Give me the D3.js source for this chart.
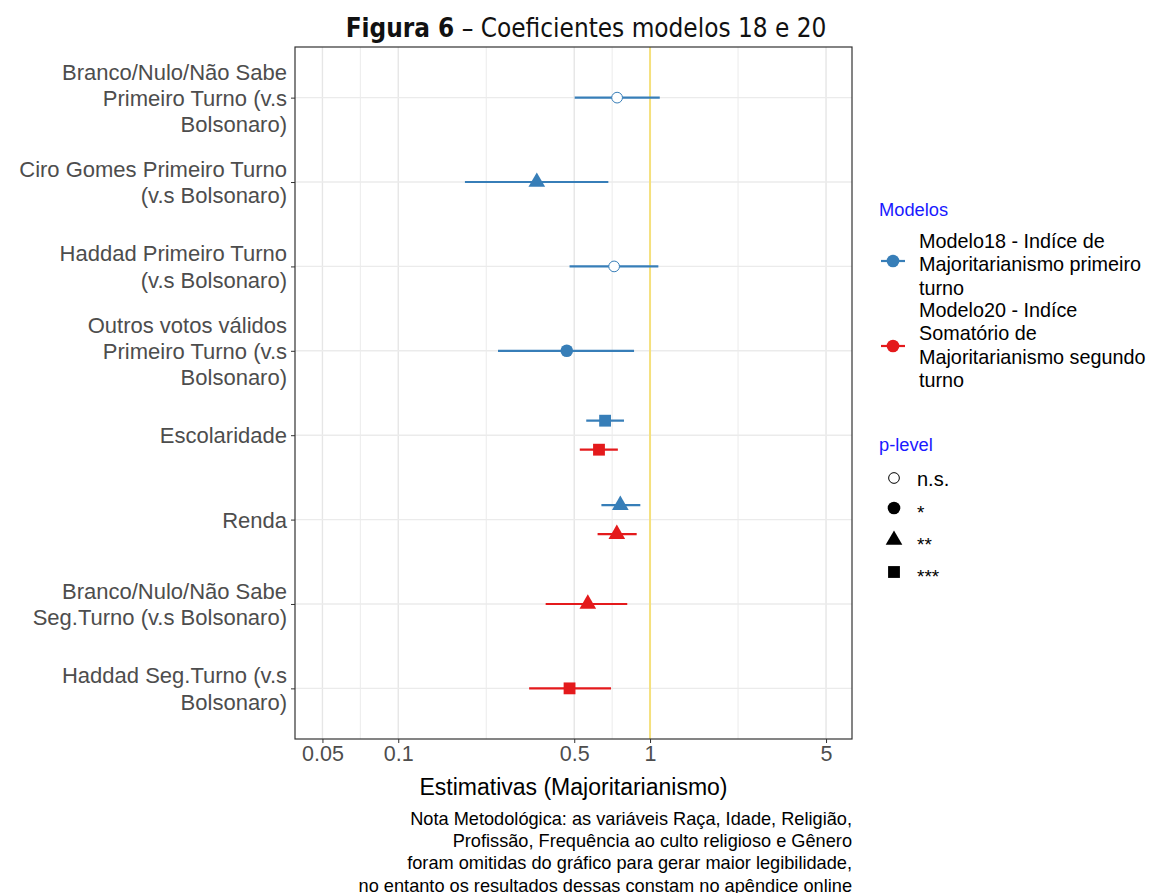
<!DOCTYPE html>
<html>
<head>
<meta charset="utf-8">
<script src="https://cdn.jsdelivr.net/npm/d3@7"></script>
<style>
  body { margin: 0; background: #ffffff; }
  text { font-family: "Liberation Sans", Arial, sans-serif; }
</style>
</head>
<body>
<svg id="svg1"></svg>
<script>
const categories = ["Branco/Nulo/Não Sabe\nPrimeiro Turno (v.s\nBolsonaro)",
                    "Ciro Gomes Primeiro Turno\n(v.s Bolsonaro)",
                    "Haddad Primeiro Turno\n(v.s Bolsonaro)",
                    "Outros votos válidos\nPrimeiro Turno (v.s\nBolsonaro)",
                    "Escolaridade",
                    "Renda",
                    "Branco/Nulo/Não Sabe\nSeg.Turno (v.s Bolsonaro)",
                    "Haddad Seg.Turno (v.s\nBolsonaro)"];

const models = ["Modelo18 - Indíce de\nMajoritarianismo primeiro\nturno",
                "Modelo20 - Indíce\nSomatório de\nMajoritarianismo segundo\nturno"];
const modelColors = ["#377eb8", "#e41a1c"];

const pLevels = ["n.s.", "*", "**", "***"];

// one entry per estimate
const termIndex  = [0, 1, 2, 3, 4, 4, 5, 5, 6, 7];
const modelIndex = [0, 0, 0, 0, 0, 1, 0, 1, 1, 1];
const estimates  = [0.740, 0.355, 0.720, 0.467, 0.663, 0.627, 0.762, 0.738, 0.566, 0.479];
const lower      = [0.502, 0.184, 0.479, 0.249, 0.558, 0.526, 0.641, 0.619, 0.385, 0.331];
const upper      = [1.093, 0.683, 1.079, 0.864, 0.788, 0.745, 0.915, 0.885, 0.812, 0.700];
const pIndex     = [0, 2, 0, 1, 3, 3, 2, 2, 2, 3];

const xTicks = [0.05, 0.1, 0.5, 1, 5];
const xMinor = [0.0707, 0.2236, 0.7071, 2.236];

const width = 1153;
const height = 893;

const svg = d3.select("#svg1")
              .attr("width", width)
              .attr("height", height);

const panel = {left: 295, right: 852, top: 47, bottom: 739};

const x = d3.scaleLog()
            .domain([0.0389, 6.34])
            .range([panel.left, panel.right]);

const y = d3.scalePoint()
            .domain(categories)
            .range([panel.top, panel.bottom])
            .padding(0.6);

const dodge = d3.scalePoint()
                .domain([0, 1])
                .range([-14.5, 14.5]);

const data = estimates.map((d, i) => ({
  term: categories[termIndex[i]],
  model: modelIndex[i],
  est: d,
  lo: lower[i],
  hi: upper[i],
  p: pIndex[i]
}));

const countByTerm = d3.rollup(data, v => v.length, d => d.term);

const yPos = d => y(d.term) + (countByTerm.get(d.term) > 1 ? dodge(d.model) : 0);

// grid
const grid = svg.append("g");
grid.selectAll(".minor")
    .data(xMinor)
    .enter()
    .append("line")
    .attr("x1", d => x(d)).attr("x2", d => x(d))
    .attr("y1", panel.top).attr("y2", panel.bottom)
    .style("stroke", "#ebebeb")
    .style("stroke-width", 1);
grid.selectAll(".major")
    .data(xTicks)
    .enter()
    .append("line")
    .attr("x1", d => x(d)).attr("x2", d => x(d))
    .attr("y1", panel.top).attr("y2", panel.bottom)
    .style("stroke", "#e6e6e6")
    .style("stroke-width", 1.4);
grid.selectAll(".hmajor")
    .data(categories)
    .enter()
    .append("line")
    .attr("x1", panel.left).attr("x2", panel.right)
    .attr("y1", d => y(d)).attr("y2", d => y(d))
    .style("stroke", "#ebebeb")
    .style("stroke-width", 1.4);

svg.append("line")
   .attr("x1", x(1)).attr("x2", x(1))
   .attr("y1", panel.top).attr("y2", panel.bottom)
   .style("stroke", "#f5e07d")
   .style("stroke-width", 2);

// axes
const xAxis = svg.append("g")
                 .attr("transform", "translate(0," + panel.bottom + ")")
                 .call(d3.axisBottom(x)
                         .tickValues(xTicks)
                         .tickFormat(d3.format("~g"))
                         .tickSize(4)
                         .tickSizeOuter(0));
xAxis.select(".domain").remove();
xAxis.selectAll("line").style("stroke", "#333333");
xAxis.selectAll("text")
     .attr("dy", "0.71em")
     .attr("y", 7)
     .style("font-size", "21.5px")
     .style("fill", "#4d4d4d");

const yAxis = svg.append("g")
                 .attr("transform", "translate(" + panel.left + ",0)")
                 .call(d3.axisLeft(y)
                         .tickSize(4)
                         .tickSizeOuter(0));
yAxis.select(".domain").remove();
yAxis.selectAll("line").style("stroke", "#333333");
yAxis.selectAll("text")
     .attr("x", -8)
     .attr("dy", null)
     .style("font-size", "22px")
     .style("fill", "#4d4d4d")
     .each(function(d) {
       const lines = d.split("\n");
       const t = d3.select(this).text(null);
       lines.forEach((l, i) => {
         t.append("tspan")
          .attr("x", -8)
          .attr("y", (i - (lines.length - 1) / 2) * 26.3)
          .attr("dy", "0.35em")
          .text(l);
       });
     });

svg.append("rect")
   .attr("x", panel.left)
   .attr("y", panel.top)
   .attr("width", panel.right - panel.left)
   .attr("height", panel.bottom - panel.top)
   .style("fill", "none")
   .style("stroke", "#333333")
   .style("stroke-width", 1.2);

// estimates
const symbols = [d3.symbolCircle, d3.symbolCircle, d3.symbolTriangle, d3.symbolSquare];
const symbolSizes = [90, 125, 120, 140];

const marks = svg.append("g")
                 .selectAll("g")
                 .data(data)
                 .enter()
                 .append("g");

marks.append("line")
     .attr("x1", d => x(d.lo))
     .attr("x2", d => x(d.hi))
     .attr("y1", yPos)
     .attr("y2", yPos)
     .style("stroke", d => modelColors[d.model])
     .style("stroke-width", 2.2);

marks.append("path")
     .attr("transform", d => "translate(" + x(d.est) + "," + yPos(d) + ")")
     .attr("d", d => d3.symbol().type(symbols[d.p]).size(symbolSizes[d.p])())
     .style("fill", d => d.p === 0 ? "#ffffff" : modelColors[d.model])
     .style("stroke", d => d.p === 0 ? modelColors[d.model] : "none")
     .style("stroke-width", 1);

// titles
const title = svg.append("text")
                 .attr("x", 586)
                 .attr("y", 37)
                 .attr("text-anchor", "middle")
                 .style("font-family", "'DejaVu Sans Condensed', 'DejaVu Sans', sans-serif")
                 .style("font-size", "25.9px")
                 .style("fill", "#111111");
title.append("tspan").style("font-weight", "bold").text("Figura 6");
title.append("tspan").text(" – Coeficientes modelos 18 e 20");

svg.append("text")
   .attr("x", (panel.left + panel.right) / 2)
   .attr("y", 795)
   .attr("text-anchor", "middle")
   .style("font-size", "23px")
   .style("fill", "#000000")
   .text("Estimativas (Majoritarianismo)");

const noteLines = ["Nota Metodológica: as variáveis Raça, Idade, Religião,",
                   "Profissão, Frequência ao culto religioso e Gênero",
                   "foram omitidas do gráfico para gerar maior legibilidade,",
                   "no entanto os resultados dessas constam no apêndice online"];
svg.append("g")
   .selectAll("text")
   .data(noteLines)
   .enter()
   .append("text")
   .attr("x", panel.right)
   .attr("y", (d, i) => 825 + i * 22.2)
   .attr("text-anchor", "end")
   .style("font-size", "18.2px")
   .style("fill", "#000000")
   .text(d => d);

// legend: Modelos
const legend = svg.append("g");
legend.append("text")
      .attr("x", 879)
      .attr("y", 216)
      .style("font-size", "18.3px")
      .style("fill", "#1a1aff")
      .text("Modelos");

const keyY = [261, 346];
const keyTop = [241, 310];
models.forEach((m, i) => {
  legend.append("line")
        .attr("x1", 881).attr("x2", 905)
        .attr("y1", keyY[i]).attr("y2", keyY[i])
        .style("stroke", modelColors[i])
        .style("stroke-width", 2.2);
  legend.append("path")
        .attr("transform", "translate(893," + keyY[i] + ")")
        .attr("d", d3.symbol().type(d3.symbolCircle).size(125)())
        .style("fill", modelColors[i]);
  const t = legend.append("text")
                  .style("font-size", "19.8px")
                  .style("fill", "#000000");
  m.split("\n").forEach((l, j) => {
    t.append("tspan")
     .attr("x", 919)
     .attr("y", keyTop[i] + j * 23.5)
     .attr("dy", "0.35em")
     .text(l);
  });
});

// legend: p-level
legend.append("text")
      .attr("x", 879)
      .attr("y", 451)
      .style("font-size", "18.3px")
      .style("fill", "#1a1aff")
      .text("p-level");

const pY = [478, 508, 540, 572];
pLevels.forEach((p, i) => {
  legend.append("path")
        .attr("transform", "translate(894," + pY[i] + ")")
        .attr("d", d3.symbol().type(symbols[i]).size(symbolSizes[i])())
        .style("fill", i === 0 ? "#ffffff" : "#000000")
        .style("stroke", i === 0 ? "#000000" : "none")
        .style("stroke-width", 1);
  legend.append("text")
        .attr("x", 917)
        .attr("y", pY[i] + (i === 0 ? 1 : 4))
        .attr("dy", "0.35em")
        .style("font-size", i === 0 ? "20px" : "19px")
        .style("fill", "#000000")
        .text(p);
});
</script>
</body>
</html>
